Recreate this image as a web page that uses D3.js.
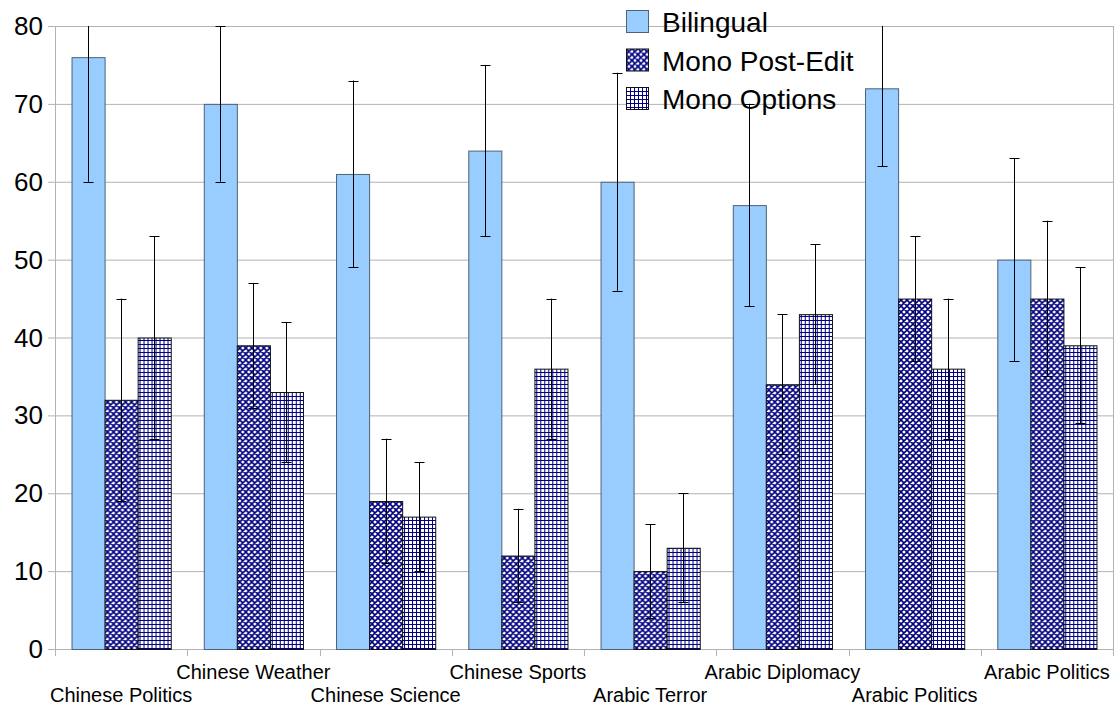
<!DOCTYPE html>
<html>
<head>
<meta charset="utf-8">
<script src="https://cdn.jsdelivr.net/npm/d3@7"></script>
<style>
  body { margin: 0; background: #fff; }
  svg text { font-family: "Liberation Sans", Arial, sans-serif; fill: #000; }
</style>
</head>
<body>
<svg id="chart" width="1115" height="706"></svg>
<script>
// values
var categories = ["Chinese Politics", "Chinese Weather", "Chinese Science", "Chinese Sports",
                  "Arabic Terror", "Arabic Diplomacy", "Arabic Politics", "Arabic Politics"];
var seriesNames = ["Bilingual", "Mono Post-Edit", "Mono Options"];
var bilingual = [76, 70, 61, 64, 60, 57, 72, 50];
var bilingualErr = [16, 10, 12, 11, 14, 13, 10, 13];
var monoPostEdit = [32, 39, 19, 12, 10, 34, 45, 45];
var monoPostEditErr = [13, 8, 8, 6, 6, 9, 8, 10];
var monoOptions = [40, 33, 17, 36, 13, 43, 36, 39];
var monoOptionsErr = [13, 9, 7, 9, 7, 9, 9, 10];
var yTicks = [0, 10, 20, 30, 40, 50, 60, 70, 80];

var values = [bilingual, monoPostEdit, monoOptions];
var errors = [bilingualErr, monoPostEditErr, monoOptionsErr];

var svg = d3.select("#chart");
// plot area edges (note: "top" is reserved on window, so prefix them)
var plotL = 55, plotR = 1113, plotT = 26, plotB = 649;

var x = d3.scaleBand().domain(d3.range(categories.length))
  .range([plotL, plotR]).paddingInner(0.25).paddingOuter(0.125);
var xs = d3.scaleBand().domain(d3.range(seriesNames.length))
  .range([0, x.bandwidth()]).padding(0);
var y = d3.scaleLinear().domain([0, 80]).range([plotB, plotT]);

// fill patterns
var defs = svg.append("defs");
var pe = defs.append("pattern").attr("id", "pe")
  .attr("patternUnits", "userSpaceOnUse").attr("width", 6).attr("height", 6);
pe.append("rect").attr("width", 6).attr("height", 6).attr("fill", "#fff");
pe.append("path").attr("d", "M0,0L6,6M6,0L0,6M-1,5L1,7M5,-1L7,1M-1,1L1,-1M5,7L7,5")
  .attr("stroke", "#000080").attr("stroke-width", 1.6);
var mo = defs.append("pattern").attr("id", "mo")
  .attr("patternUnits", "userSpaceOnUse").attr("width", 4).attr("height", 4);
mo.append("rect").attr("width", 4).attr("height", 4).attr("fill", "#fff");
mo.append("path").attr("d", "M0,0.5H4M0.5,0V4")
  .attr("stroke", "#000080").attr("stroke-width", 1);

defs.append("clipPath").attr("id", "plot")
  .append("rect").attr("x", plotL).attr("y", plotT).attr("width", plotR - plotL).attr("height", plotB - plotT);

var fills = ["#99ccff", "url(#pe)", "url(#mo)"];
var strokes = ["#4f6278", "#111", "#111"];

// grid
svg.append("g").selectAll("line").data(yTicks).enter().append("line")
  .attr("x1", plotL - 7).attr("x2", plotR)
  .attr("y1", function(d) { return y(d) + 0.5; })
  .attr("y2", function(d) { return y(d) + 0.5; })
  .attr("stroke", "#b3b3b3").attr("stroke-width", 1);
svg.append("line").attr("x1", plotL + 0.5).attr("x2", plotL + 0.5).attr("y1", plotT).attr("y2", plotB)
  .attr("stroke", "#b3b3b3");
svg.append("line").attr("x1", plotR + 0.5).attr("x2", plotR + 0.5).attr("y1", plotT).attr("y2", plotB)
  .attr("stroke", "#b3b3b3");
// x ticks at group boundaries
svg.append("g").selectAll("line").data(d3.range(categories.length + 1)).enter().append("line")
  .attr("x1", function(i) { return Math.round(plotL + i * x.step()) + 0.5; })
  .attr("x2", function(i) { return Math.round(plotL + i * x.step()) + 0.5; })
  .attr("y1", plotB).attr("y2", plotB + 7)
  .attr("stroke", "#b3b3b3");

// y labels
svg.append("g").selectAll("text").data(yTicks).enter().append("text")
  .attr("x", 43).attr("y", function(d) { return y(d); })
  .attr("dy", "0.35em").attr("text-anchor", "end")
  .style("font-size", "26px").text(function(d) { return d; });

// bars
var groups = svg.append("g").selectAll("g").data(categories).enter().append("g")
  .attr("transform", function(d, i) { return "translate(" + x(i) + ",0)"; });

seriesNames.forEach(function(s, k) {
  groups.append("rect")
    .attr("x", xs(k) + 0.5)
    .attr("y", function(d, i) { return y(values[k][i]) + 0.5; })
    .attr("width", xs.bandwidth())
    .attr("height", function(d, i) { return y(0) - y(values[k][i]); })
    .attr("fill", fills[k]).attr("stroke", strokes[k]).attr("stroke-width", 1);
});

// error bars
var eb = svg.append("g").attr("clip-path", "url(#plot)");
seriesNames.forEach(function(s, k) {
  categories.forEach(function(c, i) {
    var cx = Math.round(x(i) + xs(k) + xs.bandwidth() / 2) + 0.5;
    var hi = y(values[k][i] + errors[k][i]), lo = y(values[k][i] - errors[k][i]);
    eb.append("line").attr("x1", cx).attr("x2", cx).attr("y1", hi).attr("y2", lo)
      .attr("stroke", "#000").attr("stroke-width", 1);
    [hi, lo].forEach(function(yy) {
      eb.append("line").attr("x1", cx - 5).attr("x2", cx + 5)
        .attr("y1", Math.round(yy) + 0.5).attr("y2", Math.round(yy) + 0.5)
        .attr("stroke", "#000").attr("stroke-width", 1);
    });
  });
});

// category labels, staggered
svg.append("g").selectAll("text").data(categories).enter().append("text")
  .attr("x", function(d, i) { return x(i) + x.bandwidth() / 2; })
  .attr("y", function(d, i) { return i % 2 === 0 ? 702 : 679; })
  .attr("text-anchor", "middle").style("font-size", "20px")
  .text(function(d) { return d; });

// legend
var leg = svg.append("g").attr("transform", "translate(626,10)");
seriesNames.forEach(function(s, k) {
  var row = leg.append("g").attr("transform", "translate(0," + (k * 38.5) + ")");
  row.append("rect").attr("x", 0.5).attr("y", 0.5).attr("width", 22).attr("height", 22)
    .attr("fill", fills[k]).attr("stroke", strokes[k]);
  row.append("text").attr("x", 36).attr("y", 22).style("font-size", "28px").text(s);
});
</script>
</body>
</html>
